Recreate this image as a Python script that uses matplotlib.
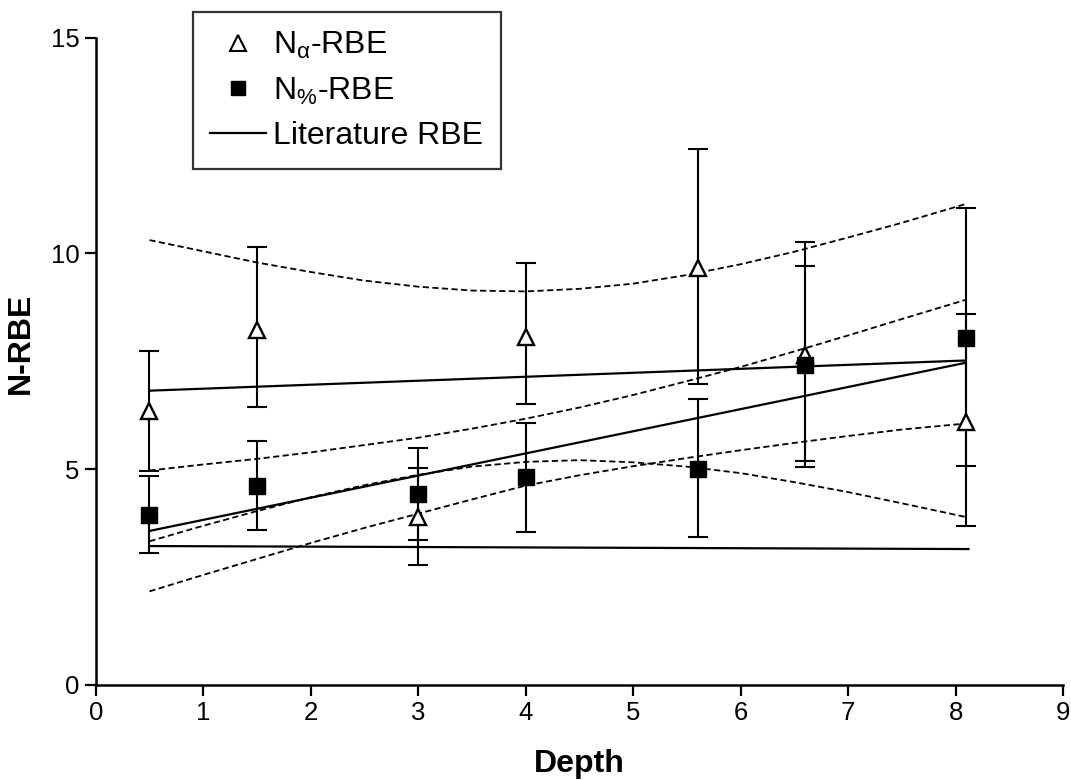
import matplotlib
matplotlib.use("Agg")
import matplotlib.pyplot as plt
from matplotlib.lines import Line2D

plt.rcParams['font.family'] = ['Liberation Sans', 'DejaVu Sans']
plt.rcParams['mathtext.fontset'] = 'custom'
plt.rcParams['mathtext.rm'] = 'Liberation Sans'
plt.rcParams['mathtext.it'] = 'Liberation Sans:italic'
plt.rcParams['mathtext.bf'] = 'Liberation Sans:bold'

# ---- data ----
depth = [0.5, 1.5, 3.0, 4.0, 5.6, 6.6, 8.1]

n_alpha = [6.34, 8.23, 3.90, 8.07, 9.67, 7.65, 6.10]
n_alpha_hi = [7.74, 10.16, 5.03, 9.77, 12.41, 10.26, 8.60]
n_alpha_lo = [4.95, 6.45, 2.77, 6.51, 6.98, 5.06, 3.69]

n_pct = [3.94, 4.61, 4.42, 4.81, 5.00, 7.41, 8.04]
n_pct_hi = [4.85, 5.65, 5.49, 6.08, 6.63, 9.70, 11.06]
n_pct_lo = [3.06, 3.59, 3.35, 3.55, 3.44, 5.19, 5.08]

fit_x = [0.5, 8.1]
alpha_fit = [6.82, 7.52]
pct_fit = [3.57, 7.47]

literature_x = [0.5, 8.13]
literature = [3.22, 3.15]

band_x = [0.5, 1.0, 1.5, 2.0, 2.5, 3.0, 3.5, 4.0, 4.5, 5.0, 5.5, 6.0, 6.5, 7.0, 7.5, 8.1]
alpha_band_hi = [10.31, 10.05, 9.79, 9.57, 9.37, 9.23, 9.14, 9.12, 9.18, 9.30, 9.50, 9.75, 10.04, 10.37, 10.71, 11.15]
alpha_band_lo = [3.33, 3.69, 4.03, 4.35, 4.63, 4.87, 5.06, 5.17, 5.21, 5.16, 5.06, 4.91, 4.70, 4.47, 4.21, 3.89]
pct_band_hi = [4.97, 5.11, 5.24, 5.39, 5.56, 5.73, 5.94, 6.17, 6.43, 6.72, 7.04, 7.37, 7.73, 8.10, 8.48, 8.93]
pct_band_lo = [2.17, 2.55, 2.92, 3.29, 3.64, 3.97, 4.30, 4.62, 4.86, 5.07, 5.26, 5.44, 5.61, 5.77, 5.92, 6.06]

x_ticks = [0, 1, 2, 3, 4, 5, 6, 7, 8, 9]
y_ticks = [0, 5, 10, 15]

# ---- figure ----
fig = plt.figure(figsize=(10.71, 7.8), dpi=100)
ax = fig.add_axes([0.0894, 0.1218, 0.9032, 0.8299])

dash_kw = dict(color='black', lw=1.3, linestyle=(0, (3.4, 1.9)), zorder=2)
for band in (alpha_band_hi, alpha_band_lo, pct_band_hi, pct_band_lo):
    ax.plot(band_x, band, **dash_kw)

line_kw = dict(color='black', lw=1.6, zorder=2, solid_capstyle='butt')
ax.plot(fit_x, alpha_fit, **line_kw)
ax.plot(fit_x, pct_fit, **line_kw)
ax.plot(literature_x, literature, **line_kw)

def err(vals, lo, hi):
    return [[v - l for v, l in zip(vals, lo)], [h - v for v, h in zip(vals, hi)]]

eb_kw = dict(fmt='none', ecolor='black', elinewidth=1.5, capsize=7, capthick=1.5, zorder=3)
ax.errorbar(depth, n_alpha, yerr=err(n_alpha, n_alpha_lo, n_alpha_hi), **eb_kw)
ax.errorbar(depth, n_pct, yerr=err(n_pct, n_pct_lo, n_pct_hi), **eb_kw)

ax.plot(depth, n_alpha, linestyle='none', marker='^', markersize=12,
        markerfacecolor='white', markeredgecolor='black', markeredgewidth=1.7, zorder=4)
ax.plot(depth, n_pct, linestyle='none', marker='s', markersize=11.5,
        markerfacecolor='black', markeredgecolor='black', zorder=5)

ax.set_xlim(0, 9)
ax.set_ylim(0, 15)
ax.set_xticks(x_ticks)
ax.set_yticks(y_ticks)
ax.spines['top'].set_visible(False)
ax.spines['right'].set_visible(False)
for s in ('left', 'bottom'):
    ax.spines[s].set_linewidth(1.8)
ax.tick_params(axis='both', direction='out', length=8, width=1.6, labelsize=18.5, pad=3.5)

ax.set_xlabel('Depth', fontsize=23, fontweight='bold', labelpad=17)
ax.set_ylabel('N-RBE', fontsize=23, fontweight='bold')
ax.yaxis.set_label_coords(-0.062, 0.528)

handles = [
    Line2D([], [], linestyle='none', marker='^', markersize=11, markerfacecolor='white',
           markeredgecolor='black', markeredgewidth=1.5),
    Line2D([], [], linestyle='none', marker='s', markersize=10, markerfacecolor='black',
           markeredgecolor='black'),
    Line2D([], [], color='black', lw=1.6),
]
labels = [r'N$_{\mathrm{\alpha}}$-RBE', r'N$_{\%}$-RBE', 'Literature RBE']
leg = fig.legend(handles, labels, loc='upper left', bbox_to_anchor=(0.180, 0.984),
                 frameon=True, fancybox=False, fontsize=23, handlelength=1.75,
                 handletextpad=0.22, labelspacing=0.45, borderpad=0.55, borderaxespad=0)
leg.get_frame().set_edgecolor('black')
leg.get_frame().set_linewidth(1.6)

fig.savefig('out.png', dpi=100)
